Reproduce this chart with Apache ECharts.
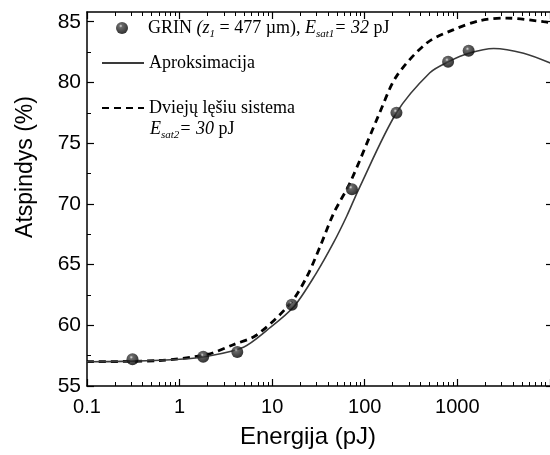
<!DOCTYPE html>
<html>
<head>
<meta charset="utf-8">
<script src="https://cdn.jsdelivr.net/npm/echarts@6/dist/echarts.min.js"></script>
<style>
  html, body { margin: 0; padding: 0; background: #fff; }
  #container { width: 550px; height: 455px; }
</style>
</head>
<body>
<div id="container"></div>
<script>
// matavimo taskai (GRIN)
var grinE = [0.31, 1.8, 4.2, 16.3, 72.7, 220, 795, 1325];
var grinR = [57.2, 57.4, 57.8, 61.7, 71.2, 77.5, 81.7, 82.6];

// aproksimacija (istisine linija)
var fitE = [0.1, 0.3, 1, 2, 4.9, 8.8, 17, 30, 46, 64, 86, 220, 505, 800, 1325, 2470, 5200, 10800];
var fitR = [57.0, 57.05, 57.2, 57.45, 58.2, 59.6, 61.5, 64.3, 66.8, 69.0, 71.2, 77.5, 80.8, 81.7, 82.4, 82.8, 82.4, 81.5];

// dvieju lesiu sistema (bruksnine linija)
var lensE = [0.1, 0.6, 2, 3.8, 6.8, 15.7, 23.7, 33, 46, 70, 145, 220, 468, 912, 1773, 3444, 8500, 10800];
var lensR = [57.0, 57.1, 57.6, 58.4, 59.2, 61.8, 64.0, 66.5, 69.2, 71.8, 77.5, 80.5, 83.25, 84.35, 85.1, 85.3, 85.0, 84.9];

var yTicks = [55, 60, 65, 70, 75, 80, 85];
var xMinorTicks = [0.2, 0.3, 0.4, 0.5, 0.6, 0.7, 0.8, 0.9,
    2, 3, 4, 5, 6, 7, 8, 9, 20, 30, 40, 50, 60, 70, 80, 90,
    200, 300, 400, 500, 600, 700, 800, 900, 2000, 3000, 4000, 5000, 6000, 7000, 8000, 9000];

function pairs(xs, ys) {
    var out = [];
    for (var i = 0; i < xs.length; i++) out.push([xs[i], ys[i]]);
    return out;
}

var serif = 'Liberation Serif';
var sans = 'Liberation Sans';

var rich = {
    n: { fontFamily: serif, fontSize: 18, color: '#000', lineHeight: 24 },
    i: { fontFamily: serif, fontSize: 18, color: '#000', fontStyle: 'italic', lineHeight: 24 },
    sub: { fontFamily: serif, fontSize: 11, color: '#000', fontStyle: 'italic', verticalAlign: 'bottom', lineHeight: 13 }
};

var legendBase = {
    orient: 'vertical',
    left: 101,
    padding: 0,
    itemWidth: 42,
    itemHeight: 12,
    itemGap: 0,
    selectedMode: false,
    textStyle: { fontFamily: serif, fontSize: 18, color: '#000', rich: rich }
};

var noSymbol = { color: 'transparent', borderWidth: 0, opacity: 0 };

var dom = document.getElementById("container");
var myChart = echarts.init(dom, null, { renderer: 'canvas' });

var logAxis = {
    type: 'log',
    logBase: 10,
    min: 0.1,
    max: 10800,
    splitLine: { show: false }
};

var option = {
    animation: false,
    backgroundColor: '#fff',
    grid: { left: 87, top: 12, width: 466, height: 374, outerBoundsMode: 'none', containLabel: false },
    xAxis: [
        Object.assign({}, logAxis, {
            position: 'bottom',
            axisLine: { lineStyle: { color: '#000', width: 1.5 } },
            axisTick: { inside: true, length: 7, lineStyle: { color: '#000', width: 1.2 } },
            axisLabel: {
                margin: 11, fontFamily: sans, fontSize: 20, color: '#000',
                formatter: function (v) { return v >= 10000 ? '' : String(v); }
            }
        }),
        Object.assign({}, logAxis, {
            position: 'bottom',
            axisLine: { show: false },
            axisTick: { inside: true, length: 4, customValues: xMinorTicks, lineStyle: { color: '#000', width: 1 } },
            axisLabel: { show: false }
        }),
        Object.assign({}, logAxis, {
            position: 'top',
            axisLine: { lineStyle: { color: '#000', width: 1.5 } },
            axisTick: { inside: true, length: 7, lineStyle: { color: '#000', width: 1.2 } },
            axisLabel: { show: false }
        }),
        Object.assign({}, logAxis, {
            position: 'top',
            axisLine: { show: false },
            axisTick: { inside: true, length: 4, customValues: xMinorTicks, lineStyle: { color: '#000', width: 1 } },
            axisLabel: { show: false }
        })
    ],
    yAxis: [
        {
            type: 'value',
            position: 'left',
            min: 55,
            max: 85.8,
            interval: 5,
            splitLine: { show: false },
            axisLine: { show: true, lineStyle: { color: '#000', width: 1.5 } },
            axisTick: { inside: true, length: 7, customValues: yTicks, lineStyle: { color: '#000', width: 1.2 } },
            minorTick: { show: true, splitNumber: 2, length: 4, lineStyle: { color: '#000', width: 1 } },
            axisLabel: {
                margin: 6, fontFamily: sans, fontSize: 21, color: '#000',
                customValues: yTicks
            }
        },
        {
            type: 'value',
            position: 'right',
            min: 55,
            max: 85.8,
            interval: 5,
            splitLine: { show: false },
            axisLine: { show: true, lineStyle: { color: '#000', width: 1.5 } },
            axisTick: { inside: true, length: 7, customValues: yTicks, lineStyle: { color: '#000', width: 1.2 } },
            axisLabel: { show: false }
        }
    ],
    legend: [
        Object.assign({}, legendBase, {
            top: 19,
            left: 116,
            data: ['GRIN'],
            formatter: function () {
                return '{n|GRIN }{i|(z}{sub|1}{n| = 477 µm), }{i|E}{sub|sat1}{i|= 32}{n| pJ}';
            }
        }),
        Object.assign({}, legendBase, {
            top: 54,
            data: [{ name: 'Aproksimacija', itemStyle: noSymbol }]
        }),
        Object.assign({}, legendBase, {
            top: 99,
            data: [{ name: 'Dviejų lęšiu sistema', itemStyle: noSymbol }]
        })
    ],
    graphic: [
        {
            type: 'text',
            left: 150,
            top: 120,
            style: {
                text: '{i|E}{sub|sat2}{i|= 30}{n| pJ}',
                rich: rich
            }
        },
        {
            type: 'text',
            x: 26,
            y: 167,
            rotation: Math.PI / 2,
            style: {
                text: 'Atspindys (%)',
                fontFamily: sans,
                fontSize: 23,
                fill: '#000',
                align: 'center',
                verticalAlign: 'middle'
            }
        },
        {
            type: 'text',
            x: 308,
            y: 437,
            style: {
                text: 'Energija (pJ)',
                fontFamily: sans,
                fontSize: 24,
                fill: '#000',
                align: 'center',
                verticalAlign: 'middle'
            }
        }
    ],
    series: [
        {
            name: 'Dviejų lęšiu sistema',
            type: 'line',
            smooth: 0.3,
            symbol: 'none',
            data: pairs(lensE, lensR),
            lineStyle: { color: '#000', width: 2.8, type: [7, 5] },
            itemStyle: { color: '#000' },
            z: 2
        },
        {
            name: 'Aproksimacija',
            type: 'line',
            smooth: 0.3,
            symbol: 'none',
            data: pairs(fitE, fitR),
            lineStyle: { color: '#3a3a3a', width: 1.6 },
            itemStyle: { color: '#3a3a3a' },
            z: 3
        },
        {
            name: 'GRIN',
            type: 'scatter',
            symbol: 'circle',
            symbolSize: 12,
            data: pairs(grinE, grinR),
            itemStyle: {
                color: {
                    type: 'radial', x: 0.4, y: 0.33, r: 0.65,
                    colorStops: [
                        { offset: 0, color: '#d8d8d8' },
                        { offset: 0.22, color: '#444' },
                        { offset: 1, color: '#000' }
                    ]
                }
            },
            z: 4
        }
    ]
};

if (option && typeof option === 'object') {
    myChart.setOption(option);
}
</script>
</body>
</html>
